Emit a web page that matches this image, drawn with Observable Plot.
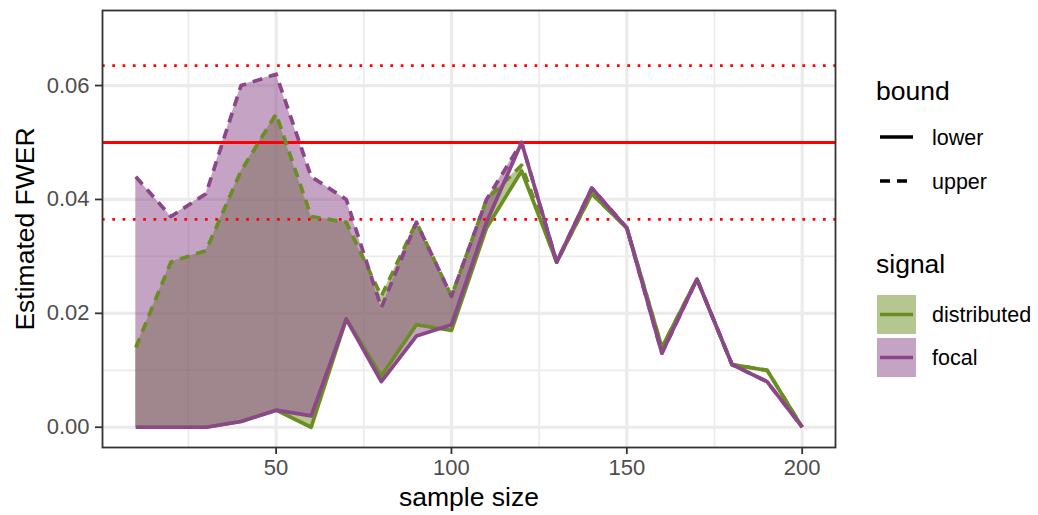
<!DOCTYPE html>
<html>
<head>
<meta charset="utf-8">
<script src="https://cdn.jsdelivr.net/npm/d3@7"></script>
<script src="https://cdn.jsdelivr.net/npm/@observablehq/plot@0.6"></script>
<style>
  body { margin: 0; background: #fff; font-family: "Liberation Sans", Arial, Helvetica, sans-serif; }
  #wrap { position: relative; width: 1038px; height: 515px; overflow: hidden; }
  #legend { position: absolute; left: 860px; top: 0; }
</style>
</head>
<body>
<div id="wrap">
  <div id="chart"></div>
  <svg id="legend" width="178" height="400"></svg>
</div>
<script>
// Estimated family-wise error rate by sample size, lower and upper bounds per signal type
const sampleSize = [10, 20, 30, 40, 50, 60, 70, 80, 90, 100, 110, 120, 130, 140, 150, 160, 170, 180, 190, 200];
const distributedLower = [0, 0, 0, 0.001, 0.003, 0, 0.019, 0.009, 0.018, 0.017, 0.035, 0.045, 0.029, 0.041, 0.035, 0.014, 0.026, 0.011, 0.010, 0];
const distributedUpper = [0.014, 0.029, 0.031, 0.045, 0.055, 0.037, 0.036, 0.023, 0.036, 0.023, 0.040, 0.046, 0.029, 0.041, 0.035, 0.014, 0.026, 0.011, 0.010, 0];
const focalLower = [0, 0, 0, 0.001, 0.003, 0.002, 0.019, 0.008, 0.016, 0.018, 0.036, 0.050, 0.029, 0.042, 0.035, 0.013, 0.026, 0.011, 0.008, 0];
const focalUpper = [0.044, 0.037, 0.041, 0.060, 0.062, 0.044, 0.040, 0.021, 0.036, 0.023, 0.040, 0.050, 0.029, 0.042, 0.035, 0.013, 0.026, 0.011, 0.008, 0];

const signals = ["distributed", "focal"];
const signalColors = ["#6b8e23", "#8b4789"];
const bounds = ["lower", "upper"];

// Reference levels: nominal alpha and its binomial limits
const nominalAlpha = [0.05];
const alphaLimits = [0.0365, 0.0635];

const xTicks = [50, 100, 150, 200];
const xMinorTicks = [25, 75, 125, 175];
const yTicks = [0, 0.02, 0.04, 0.06];
const yMinorTicks = [0.01, 0.03, 0.05];

const series = {
  distributed: { lower: distributedLower, upper: distributedUpper },
  focal: { lower: focalLower, upper: focalUpper }
};
const rows = signals.flatMap(signal =>
  sampleSize.map((n, i) => ({ n, signal, lower: series[signal].lower[i], upper: series[signal].upper[i] }))
);

const font = "'Liberation Sans', Arial, Helvetica, sans-serif";
const dashed = "10,7";
const lineWidth = 3.7;

const lineMarks = signals.flatMap(signal => {
  const data = rows.filter(d => d.signal === signal);
  return [
    Plot.line(data, { x: "n", y: "lower", stroke: "signal", strokeWidth: lineWidth, strokeLinecap: "butt", strokeLinejoin: "round" }),
    Plot.line(data, { x: "n", y: "upper", stroke: "signal", strokeWidth: lineWidth, strokeLinecap: "butt", strokeLinejoin: "round", strokeDasharray: dashed })
  ];
});

const chart = Plot.plot({
  width: 1038,
  height: 515,
  marginLeft: 102,
  marginRight: 203,
  marginTop: 10,
  marginBottom: 68,
  style: { fontFamily: font, background: "#fff", overflow: "visible" },
  x: { domain: [0.5, 209.5] },
  y: { domain: [-0.00356, 0.07318] },
  color: { domain: signals, range: signalColors },
  marks: [
    Plot.gridX(xMinorTicks, { stroke: "#ebebeb", strokeOpacity: 1, strokeWidth: 1.7 }),
    Plot.gridY(yMinorTicks, { stroke: "#ebebeb", strokeOpacity: 1, strokeWidth: 1.7 }),
    Plot.gridX(xTicks, { stroke: "#ebebeb", strokeOpacity: 1, strokeWidth: 3.2 }),
    Plot.gridY(yTicks, { stroke: "#ebebeb", strokeOpacity: 1, strokeWidth: 3.2 }),
    Plot.areaY(rows, { x: "n", y1: "lower", y2: "upper", fill: "signal", fillOpacity: 0.5, z: "signal" }),
    Plot.ruleY(nominalAlpha, { stroke: "#ff0000", strokeWidth: 2.8 }),
    Plot.ruleY(alphaLimits, { stroke: "#ff0000", strokeWidth: 2.8, strokeDasharray: "2.7,7.6" }),
    ...lineMarks,
    Plot.frame({ stroke: "#333333", strokeWidth: 1.8 }),
    Plot.axisX(xTicks, { tickSize: 7, tickPadding: 5, fontSize: 22, stroke: "#333333", strokeWidth: 1.8, fill: "#4d4d4d", label: null }),
    Plot.axisY(yTicks, { tickSize: 7, tickPadding: 6, fontSize: 22, stroke: "#333333", strokeWidth: 1.8, fill: "#4d4d4d", label: null, tickFormat: d => d.toFixed(2) }),
    Plot.text(["sample size"], { frameAnchor: "bottom", dy: 58, lineAnchor: "bottom", textAnchor: "middle", fontSize: 26.5, fill: "#000" }),
    Plot.text(["Estimated FWER"], { frameAnchor: "left", dx: -69, rotate: -90, lineAnchor: "bottom", textAnchor: "middle", fontSize: 26.5, fill: "#000" })
  ]
});
document.getElementById("chart").append(chart);

// Legend: bound (line type) and signal (colour)
const legend = d3.select("#legend").style("font-family", font);
legend.append("text").attr("x", 16).attr("y", 100).attr("font-size", 26.5).attr("fill", "#000").text("bound");
bounds.forEach((b, i) => {
  const y = 137 + i * 44;
  legend.append("line").attr("x1", 20).attr("x2", 53).attr("y1", y).attr("y2", y)
    .attr("stroke", "#000").attr("stroke-width", lineWidth)
    .attr("stroke-dasharray", b === "upper" ? dashed : null);
  legend.append("text").attr("x", 72).attr("y", y + 8).attr("font-size", 21.5).attr("fill", "#000").text(b);
});
legend.append("text").attr("x", 16).attr("y", 273).attr("font-size", 26.5).attr("fill", "#000").text("signal");
signals.forEach((s, i) => {
  const top = 295 + i * 43;
  legend.append("rect").attr("x", 17).attr("y", top).attr("width", 39).attr("height", 39)
    .attr("fill", signalColors[i]).attr("fill-opacity", 0.5);
  legend.append("line").attr("x1", 20).attr("x2", 53).attr("y1", top + 19.5).attr("y2", top + 19.5)
    .attr("stroke", signalColors[i]).attr("stroke-width", lineWidth);
  legend.append("text").attr("x", 72).attr("y", top + 27).attr("font-size", 21.5).attr("fill", "#000").text(s);
});
</script>
</body>
</html>
